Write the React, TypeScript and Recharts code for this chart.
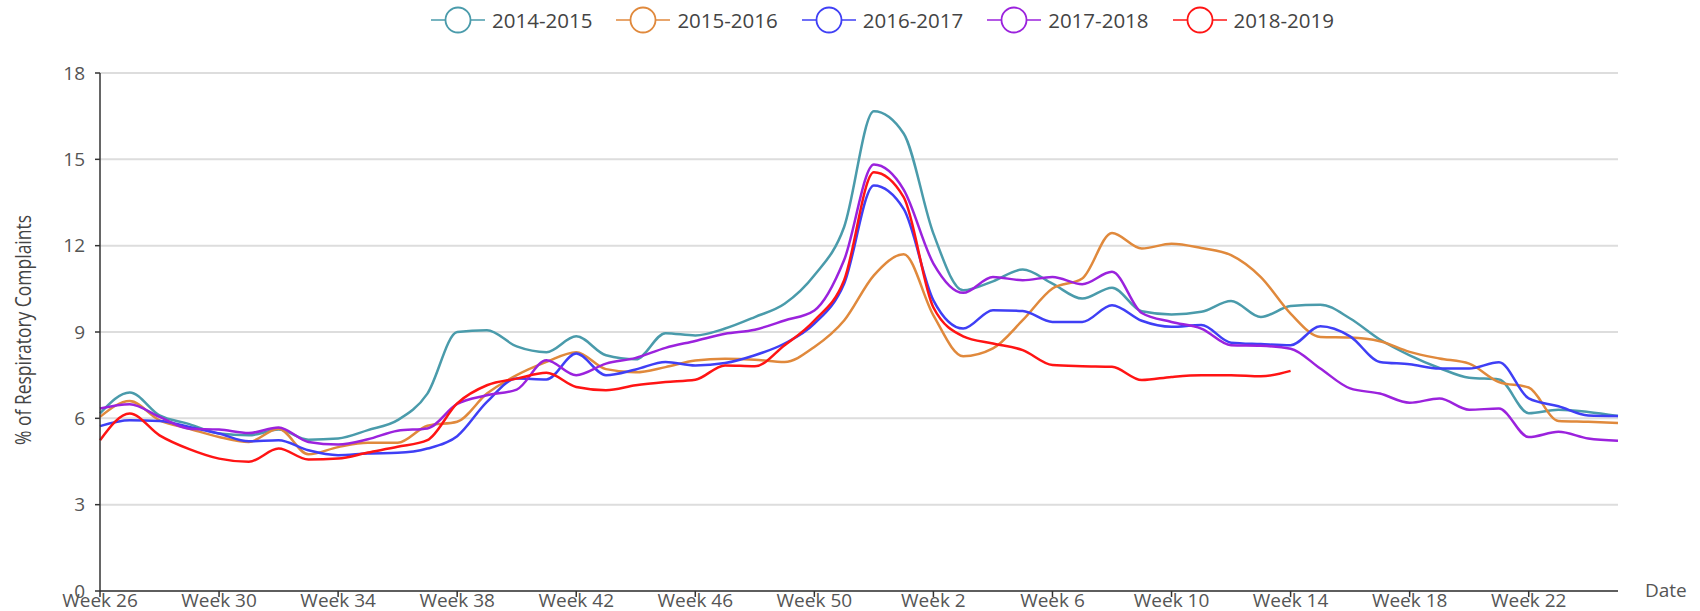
import React from "react";
import { LineChart, Line, XAxis, YAxis, CartesianGrid, Label } from "recharts";

const WEEKS = [
  "Week 26", "Week 27", "Week 28", "Week 29", "Week 30", "Week 31", "Week 32", "Week 33", "Week 34",
  "Week 35", "Week 36", "Week 37", "Week 38", "Week 39", "Week 40", "Week 41", "Week 42", "Week 43",
  "Week 44", "Week 45", "Week 46", "Week 47", "Week 48", "Week 49", "Week 50", "Week 51", "Week 52",
  "Week 1", "Week 2", "Week 3", "Week 4", "Week 5", "Week 6", "Week 7", "Week 8", "Week 9", "Week 10",
  "Week 11", "Week 12", "Week 13", "Week 14", "Week 15", "Week 16", "Week 17", "Week 18", "Week 19",
  "Week 20", "Week 21", "Week 22", "Week 23", "Week 24", "Week 25",
];

const Y_TICKS = [0, 3, 6, 9, 12, 15, 18];

const S_2014_2015 = [
  6.17, 6.9, 6.1, 5.8, 5.47, 5.41, 5.61, 5.26, 5.3, 5.59, 5.94, 6.86, 9.0, 9.06, 8.5, 8.3, 8.85, 8.19,
  8.05, 8.96, 8.88, 9.12, 9.52, 9.98, 10.97, 12.65, 16.67, 15.9, 12.42, 10.45, 10.76, 11.17, 10.68, 10.16,
  10.54, 9.72, 9.61, 9.7, 10.08, 9.52, 9.9, 9.95, 9.47, 8.74, 8.19, 7.75, 7.41, 7.35, 6.18, 6.3, 6.22, 6.08,
];

const S_2015_2016 = [
  6.05, 6.6, 5.93, 5.64, 5.35, 5.18, 5.64, 4.75, 5.0, 5.15, 5.15, 5.74, 5.88, 6.86, 7.5, 7.96, 8.3, 7.71,
  7.6, 7.78, 8.01, 8.07, 8.04, 7.96, 8.48, 9.4, 10.97, 11.7, 9.58, 8.16, 8.43, 9.41, 10.51, 10.86,
  12.44, 11.9, 12.07, 11.92, 11.67, 10.91, 9.64, 8.83, 8.81, 8.68, 8.31, 8.08, 7.9, 7.26, 7.07, 5.91, 5.88, 5.84,
];

const S_2016_2017 = [
  5.73, 5.93, 5.91, 5.7, 5.47, 5.2, 5.24, 4.89, 4.72, 4.78, 4.8, 4.95, 5.38, 6.57, 7.38, 7.35, 8.25, 7.5,
  7.7, 7.96, 7.84, 7.92, 8.19, 8.6, 9.29, 10.68, 14.09, 13.28, 10.1, 9.12, 9.76, 9.73, 9.35, 9.35,
  9.93, 9.39, 9.18, 9.24, 8.63, 8.58, 8.54, 9.2, 8.85, 7.96, 7.88, 7.73, 7.73, 7.95, 6.69, 6.42, 6.1, 6.08,
];

const S_2017_2018 = [
  6.34, 6.49, 6.05, 5.64, 5.61, 5.49, 5.68, 5.18, 5.09, 5.27, 5.57, 5.65, 6.5, 6.8, 7.0, 8.02, 7.5, 7.9,
  8.1, 8.45, 8.69, 8.94, 9.08, 9.4, 9.75, 11.5, 14.82, 13.95, 11.38, 10.36, 10.91, 10.8, 10.91, 10.66,
  11.09, 9.66, 9.35, 9.12, 8.54, 8.52, 8.42, 7.73, 7.04, 6.86, 6.54, 6.69, 6.3, 6.34, 5.35, 5.53, 5.3, 5.22,
];

const S_2018_2019 = [
  5.24, 6.17, 5.41, 4.93, 4.6, 4.49, 4.95, 4.57, 4.6, 4.81, 5.01, 5.24, 6.52, 7.15, 7.38, 7.58, 7.09, 6.98,
  7.15, 7.26, 7.34, 7.84, 7.81, 8.54, 9.4, 10.8, 14.55, 13.69, 9.85, 8.85, 8.6, 8.37, 7.85, 7.81,
  7.79, 7.33, 7.44, 7.5, 7.5, 7.46, 7.65,
];

const SERIES = [
  { key: "s1415", name: "2014-2015", color: "#4a9bab", values: S_2014_2015 },
  { key: "s1516", name: "2015-2016", color: "#e0893c", values: S_2015_2016 },
  { key: "s1617", name: "2016-2017", color: "#3f3ff5", values: S_2016_2017 },
  { key: "s1718", name: "2017-2018", color: "#9b22dd", values: S_2017_2018 },
  { key: "s1819", name: "2018-2019", color: "#ff1414", values: S_2018_2019 },
];

const data = WEEKS.map((week, i) => {
  const row: Record<string, string | number | null> = { week };
  SERIES.forEach((s) => {
    row[s.key] = i < s.values.length ? s.values[i] : null;
  });
  return row;
});

const FONT = "'Open Sans', 'Noto Sans', sans-serif";
const TEXT_COLOR = "#555";

function LegendIcon({ color }: { color: string }) {
  return (
    <svg width={54} height={30} style={{ display: "block" }}>
      <line x1={0} y1={15} x2={54} y2={15} stroke={color} strokeWidth={1.5} />
      <circle cx={27} cy={15} r={12.5} fill="#fff" stroke={color} strokeWidth={1.8} />
    </svg>
  );
}

// legend drawn as html above the plot so it doesn't push the plot area down
function TopLegend() {
  return (
    <div style={{ position: "absolute", left: 431, top: 5, display: "flex", height: 30 }}>
      {SERIES.map((s) => (
        <div key={s.key} style={{ width: 185.4, display: "flex", alignItems: "center" }}>
          <LegendIcon color={s.color} />
          <span style={{ marginLeft: 7, fontFamily: FONT, fontSize: 20.5, color: "#444" }}>{s.name}</span>
        </div>
      ))}
    </div>
  );
}

const YTitle = () => (
  <text
    x={22}
    y={330}
    transform="rotate(-90 22 330)"
    textAnchor="middle"
    dominantBaseline="central"
    textLength={230}
    lengthAdjust="spacingAndGlyphs"
    style={{ fontFamily: FONT, fontSize: 22, fill: "#444" }}
  >
    % of Respiratory Complaints
  </text>
);

const DateLabel = (props: any) => {
  const vb = props.viewBox || {};
  return (
    <text
      x={vb.x + vb.width + 27}
      y={vb.y - 1}
      dominantBaseline="central"
      style={{ fontFamily: FONT, fontSize: 19, fill: TEXT_COLOR }}
    >
      Date
    </text>
  );
};

export default function App() {
  return (
    <div style={{ position: "absolute", left: 0, top: 0, width: 1700, height: 611, background: "#fff" }}>
      <TopLegend />
      <LineChart width={1700} height={611} data={data} margin={{ top: 73, right: 82, left: 40, bottom: 0 }}>
        <CartesianGrid vertical={false} stroke="#dddddd" strokeWidth={2} />
        <XAxis
          dataKey="week"
          interval={3}
          height={20}
          stroke="#333"
          strokeWidth={1.5}
          tickSize={6}
          tickMargin={-3}
          tick={{ fontFamily: FONT, fontSize: 19, fill: TEXT_COLOR }}
        >
          <Label content={DateLabel} />
        </XAxis>
        <YAxis
          domain={[0, 18]}
          ticks={Y_TICKS}
          width={60}
          stroke="#333"
          strokeWidth={1.5}
          tickSize={5}
          tickMargin={10}
          tick={{ fontFamily: FONT, fontSize: 19, fill: TEXT_COLOR }}
        >
          <Label content={YTitle} />
        </YAxis>
        {SERIES.map((s) => (
          <Line
            key={s.key}
            type="monotone"
            dataKey={s.key}
            name={s.name}
            stroke={s.color}
            strokeWidth={2.5}
            dot={false}
            activeDot={false}
            isAnimationActive={false}
          />
        ))}
      </LineChart>
    </div>
  );
}
